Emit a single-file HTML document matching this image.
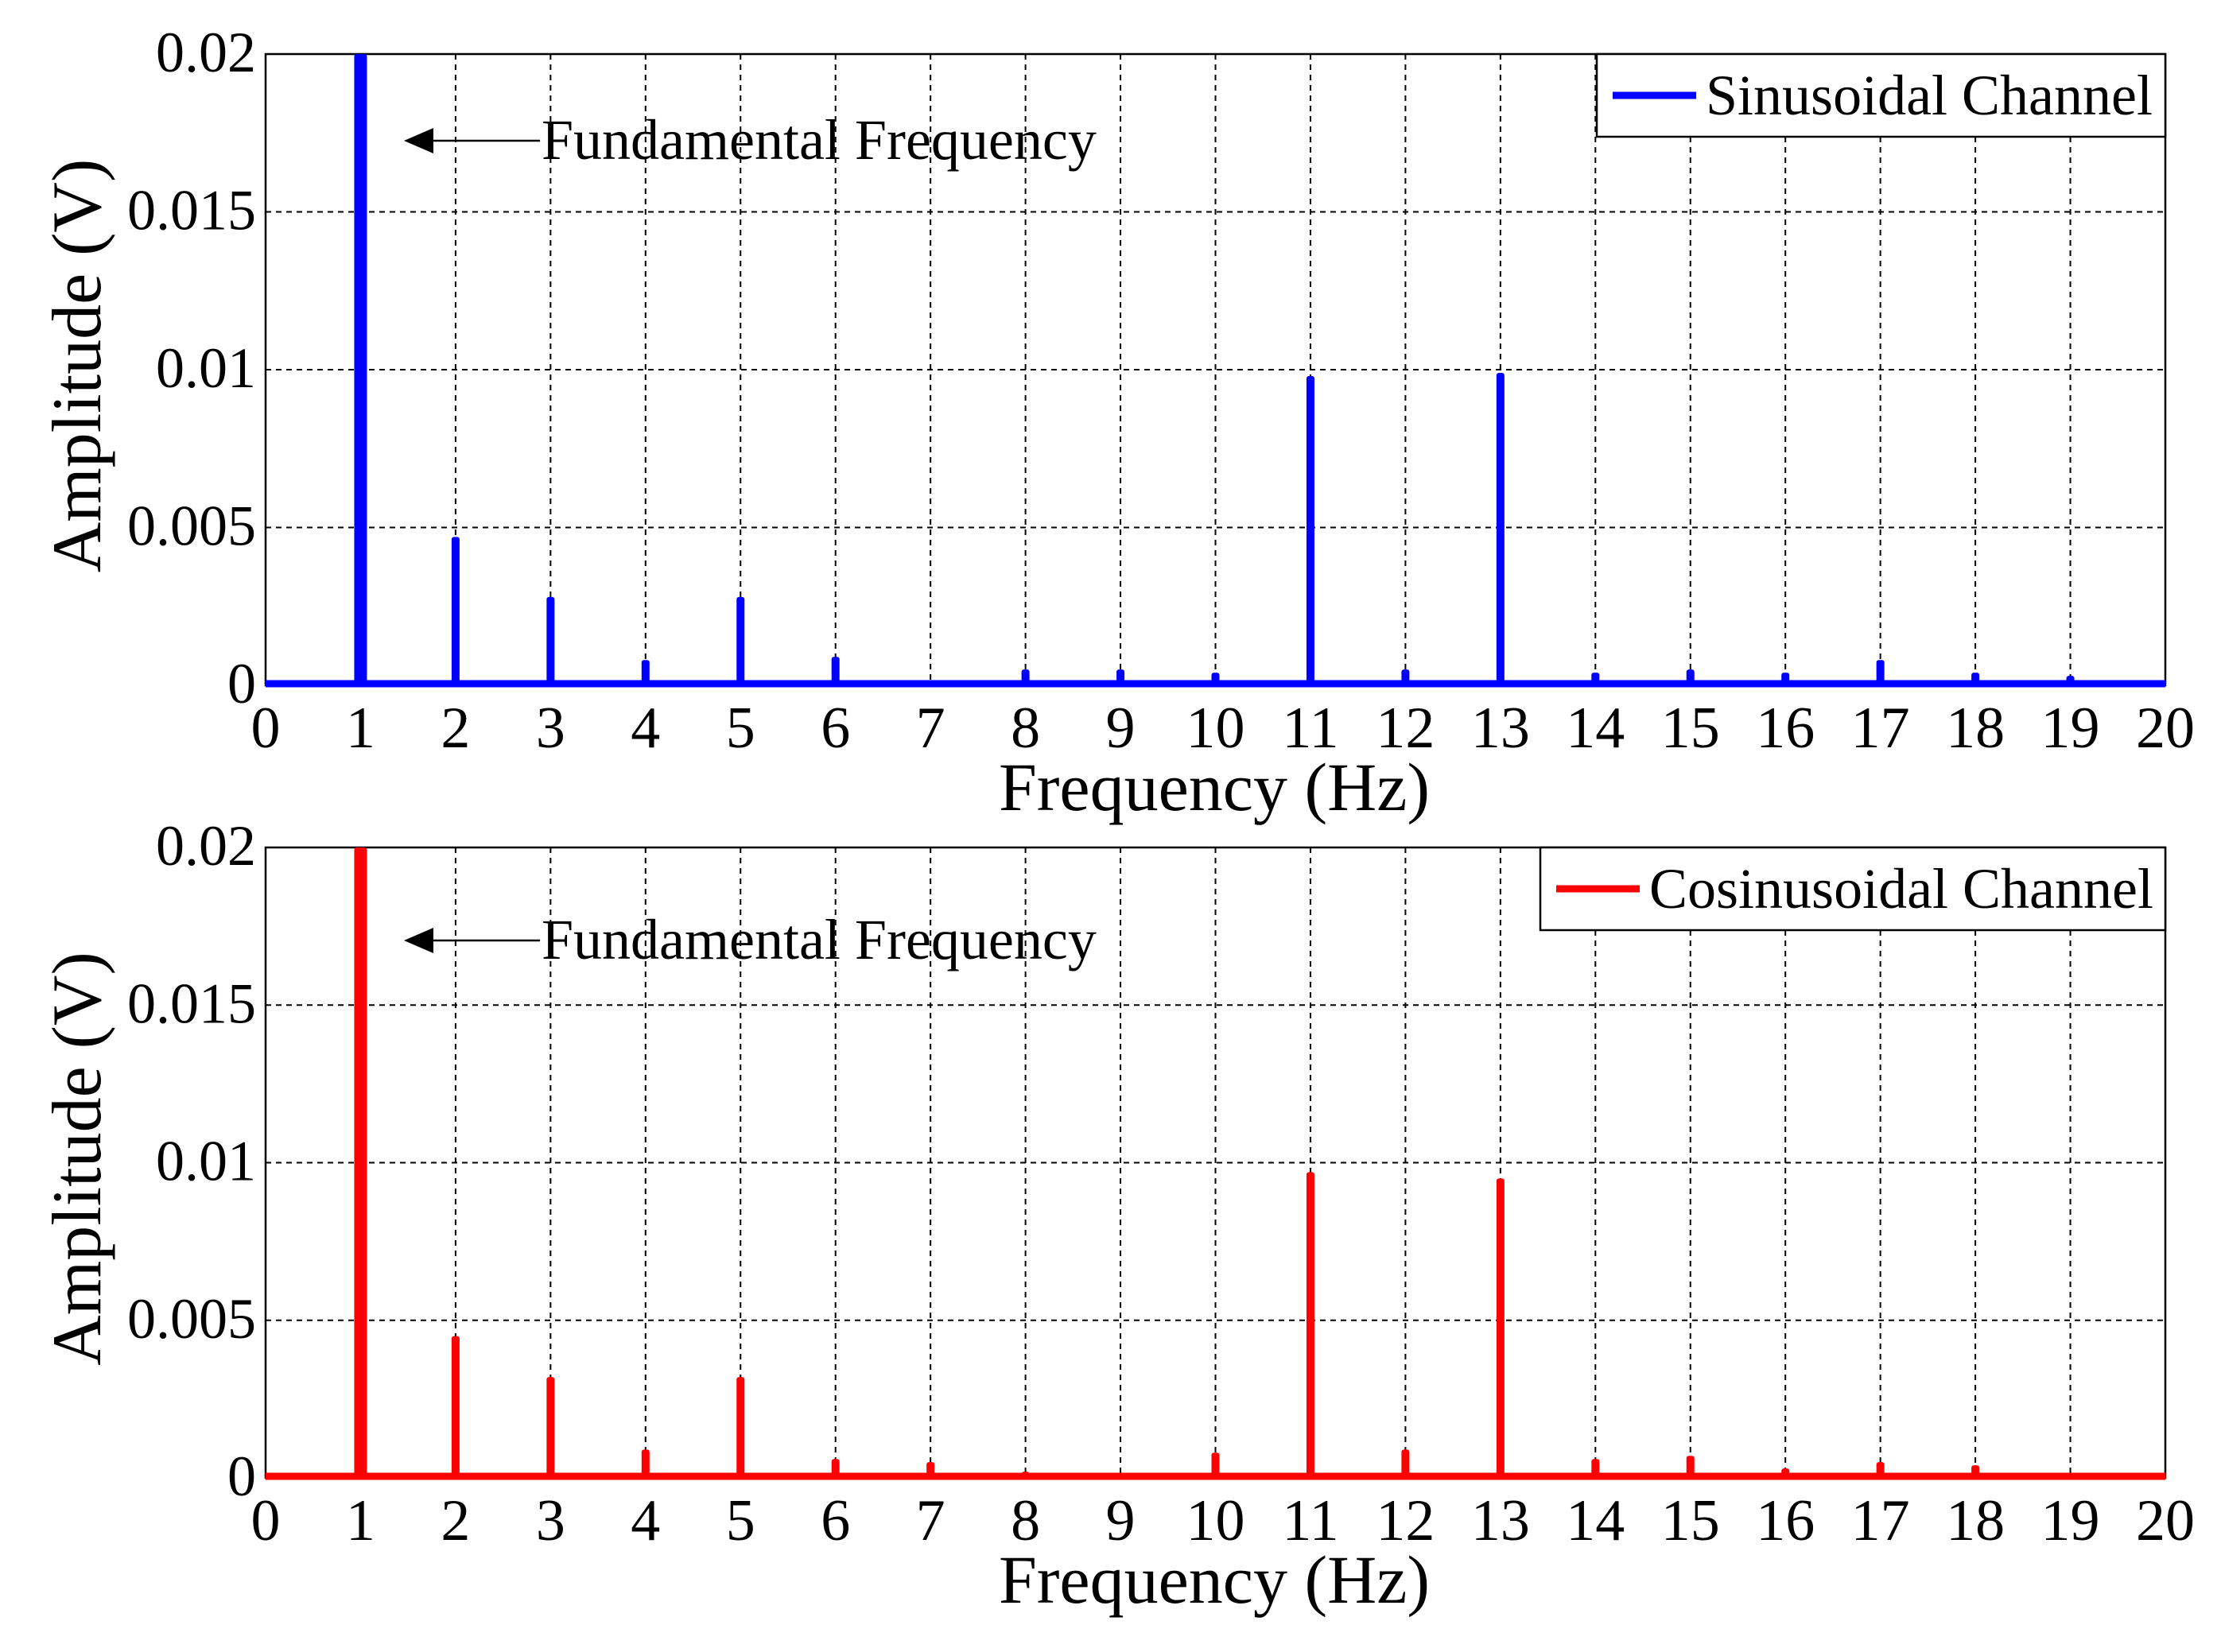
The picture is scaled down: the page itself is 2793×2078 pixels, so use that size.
<!DOCTYPE html>
<html><head><meta charset="utf-8"><style>
html,body{margin:0;padding:0;background:#fff;}
svg{display:block;}
text{font-family:"Liberation Serif",serif;fill:#000;}
</style></head><body>
<svg id="chart" width="2793" height="2078" viewBox="0 0 2793 2078" xmlns="http://www.w3.org/2000/svg"></svg>
<script>
const freqs = [1,2,3,4,5,6,7,8,9,10,11,12,13,14,15,16,17,18,19];
const sinValues = [0.0205,0.0047,0.0028,0.0008,0.0028,0.0009,0.0001,0.0005,0.0005,0.0004,0.0098,0.0005,0.0099,0.0004,0.0005,0.0004,0.0008,0.0004,0.0003];
const cosValues = [0.0205,0.0045,0.0032,0.0009,0.0032,0.0006,0.0005,0.0002,0.0000,0.0008,0.0097,0.0009,0.0095,0.0006,0.0007,0.0003,0.0005,0.0004,0.0001];
const xTicks = [0,1,2,3,4,5,6,7,8,9,10,11,12,13,14,15,16,17,18,19,20];
const yTicks = [0,0.005,0.01,0.015,0.02];
const yTickLabels = ["0","0.005","0.01","0.015","0.02"];

const NS="http://www.w3.org/2000/svg";
const svg=document.getElementById('chart');
function mk(tag,attrs,parent){const e=document.createElementNS(NS,tag);for(const k in attrs)e.setAttribute(k,attrs[k]);(parent||svg).appendChild(e);return e;}

function panel(cfg){
  const L=334,R=2723,T=cfg.top,B=cfg.bottom;
  const x=v=>L+(v-0)/(20-0)*(R-L);
  const y=v=>B-(v/0.02)*(B-T);
  const g=mk('g',{});
  
  
  xTicks.forEach(t=>{ if(t>0&&t<20){const l=mk('line',{x1:x(t),x2:x(t),y1:T,y2:B,stroke:'#000','stroke-width':2,'stroke-dasharray':'7,6'},g);
    }});
  yTicks.forEach(t=>{ if(t>0&&t<0.02){const l=mk('line',{x1:L,x2:R,y1:y(t),y2:y(t),stroke:'#000','stroke-width':2,'stroke-dasharray':'7,6'},g);
    }});
  const box=mk('rect',{x:L,y:T,width:R-L,height:B-T,fill:'none',stroke:'#000','stroke-width':2.5},g);
  
  xTicks.forEach(t=>{const tx=mk('text',{x:x(t),y:B+78,'font-size':74,'text-anchor':'middle'},g);tx.textContent=t;
    });
  yTicks.forEach((t,i)=>{const tx=mk('text',{x:L-12,y:y(t)+22,'font-size':72,'text-anchor':'end'},g);tx.textContent=yTickLabels[i];
    });
  const xt=mk('text',{x:1527,y:B+157,'font-size':86,'text-anchor':'middle'},g);xt.textContent='Frequency (Hz)';
  
  const cy=(T+B)/2-5;
  const yt=mk('text',{x:0,y:0,'font-size':88,'text-anchor':'middle',transform:`translate(126,${cy}) rotate(-90)`},g);yt.textContent='Amplitude (V)';
  
  const bl=mk('line',{x1:L,x2:R,y1:B-2,y2:B-2,stroke:cfg.color,'stroke-width':9},g);
  
  cfg.values.forEach((v,i)=>{
    const f=freqs[i];const top=Math.max(y(v),T);const w=(f===1)?16:10;
    const r=mk('rect',{x:x(f)-w/2,y:top,width:w,height:B-top,fill:cfg.color,rx:3},g);
    
  });
  const ay=cfg.annY;
  const al=mk('line',{x1:535,x2:679,y1:ay,y2:ay,stroke:'#000','stroke-width':2.5},g);
  
  const ah=mk('polygon',{points:`508,${ay} 545,${ay-16} 545,${ay+16}`,fill:'#000'},g);
  
  const at=mk('text',{x:681,y:ay+23,'font-size':72},g);at.textContent='Fundamental Frequency';
  
  const lg=mk('g',{},g);
  const lb=mk('rect',{x:cfg.legX,y:T,width:R-cfg.legX,height:104,fill:'#fff',stroke:'#000','stroke-width':2.5},lg);
  
  const ll=mk('line',{x1:cfg.legX+20,x2:cfg.legX+125,y1:T+52,y2:T+52,stroke:cfg.color,'stroke-width':9},lg);
  
  const lt=mk('text',{x:cfg.legX+137,y:T+76,'font-size':72},lg);lt.textContent=cfg.label;
  
}
panel({name:'sinusoidal',top:68,bottom:862,color:'#0000ff',values:sinValues,legX:2008,label:'Sinusoidal Channel',annY:177});
panel({name:'cosinusoidal',top:1066,bottom:1859,color:'#ff0000',values:cosValues,legX:1937,label:'Cosinusoidal Channel',annY:1183});
</script>
</body></html>
